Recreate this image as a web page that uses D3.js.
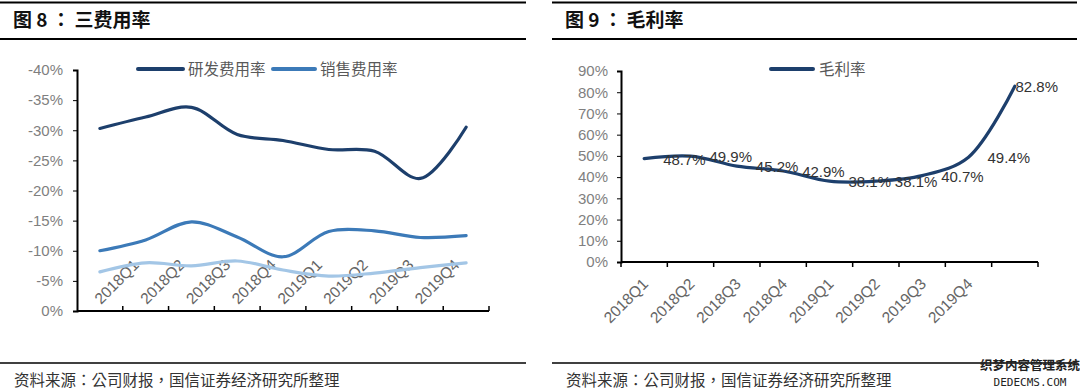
<!DOCTYPE html>
<html>
<head>
<meta charset="utf-8">
<script src="https://cdn.jsdelivr.net/npm/d3@7"></script>
<style>
  body { margin: 0; background: #fff; }
  svg { display: block; font-family: "Liberation Sans", Arial, "Noto Sans CJK SC", sans-serif; }
</style>
</head>
<body>
<svg id="chart" width="1080" height="392"></svg>
<script>
// categories (9 slots, the last one has no label in the source)
const periods = ["2018Q1", "2018Q2", "2018Q3", "2018Q4", "2019Q1", "2019Q2", "2019Q3", "2019Q4", ""];

// figure 8 – expense ratios (plotted as negatives, axis runs 0% .. -40%)
const rdRate = [-30.3, -32.2, -33.8, -29.3, -28.3, -26.8, -26.5, -22.0, -30.5];
const salesRate = [-10.0, -11.8, -14.8, -12.3, -9.0, -13.2, -13.3, -12.2, -12.5];
const adminRate = [-6.5, -8.0, -7.5, -8.3, -6.8, -5.8, -6.3, -7.2, -8.0];
const leftTicks = [0, -5, -10, -15, -20, -25, -30, -35, -40];

// figure 9 – gross margin
const grossMargin = [48.7, 49.9, 45.2, 42.9, 38.1, 38.1, 40.7, 49.4, 82.8];
const rightTicks = [0, 10, 20, 30, 40, 50, 60, 70, 80, 90];

const svg = d3.select('#chart');
const pct = v => v + '%';
const cjk = '"Noto Sans CJK TC", "Noto Sans CJK SC", sans-serif';

// ---- frame: titles, rules, sources ----
function drawFrame(x0, x1, titleParts) {
  svg.append('line').attr('x1', x0).attr('x2', x1).attr('y1', 2.5).attr('y2', 2.5)
    .attr('stroke', '#000').attr('stroke-width', 2);
  svg.append('line').attr('x1', x0).attr('x2', x1).attr('y1', 39).attr('y2', 39)
    .attr('stroke', '#000').attr('stroke-width', 2);
  const t = svg.append('text').attr('x', x0 + 13).attr('y', 27)
    .attr('font-size', 19).attr('font-weight', 'bold').attr('fill', '#111')
    .attr('font-family', cjk);
  titleParts.forEach((p, i) => t.append('tspan').attr('dx', i ? 4 : 0).text(p));
  svg.append('line').attr('x1', x0).attr('x2', x1).attr('y1', 363).attr('y2', 363)
    .attr('stroke', '#000').attr('stroke-width', 1.5);
  svg.append('text').attr('x', x0 + 14).attr('y', 386)
    .attr('font-size', 15.5).attr('fill', '#333')
    .attr('font-family', cjk)
    .text('资料来源：公司财报，国信证券经济研究所整理');
}
drawFrame(0, 526, ['图 8', '：', '三费用率']);
drawFrame(552, 1077, ['图 9', '：', '毛利率']);

// ---- figure 8 ----
const xL = d3.scaleBand().domain(d3.range(periods.length)).range([77, 489]);
const yL = d3.scaleLinear().domain([0, -40]).range([311, 70]);

const gL = svg.append('g');
gL.append('g').attr('transform', 'translate(77,0)')
  .call(d3.axisLeft(yL).tickValues(leftTicks).tickFormat(pct).tickSize(4).tickPadding(10))
  .call(g => g.selectAll('text').attr('font-size', 15).attr('fill', '#7f7f7f'))
  .call(g => g.select('.domain').attr('stroke-width', 2));
gL.append('line').attr('x1', 77).attr('x2', 489).attr('y1', 311).attr('y2', 311)
  .attr('stroke', '#000').attr('stroke-width', 2);
// category boundary ticks, pointing inward
gL.selectAll('.xtick').data(d3.range(1, periods.length + 1)).enter().append('line')
  .attr('x1', i => 77 + i * xL.bandwidth()).attr('x2', i => 77 + i * xL.bandwidth())
  .attr('y1', 311).attr('y2', 306).attr('stroke', '#000').attr('stroke-width', 1.5);
gL.selectAll('.xlab').data(periods).enter().append('text')
  .attr('transform', (d, i) => `translate(${xL(i) + xL.bandwidth() / 2 + 40},266) rotate(-45)`)
  .attr('text-anchor', 'end').attr('font-size', 15.5).attr('fill', '#666')
  .text(d => d);

const lineL = d3.line()
  .x((d, i) => xL(i) + xL.bandwidth() / 2)
  .y(d => yL(d))
  .curve(d3.curveCatmullRom.alpha(0.5));

[[adminRate, '#a3c6e6'], [salesRate, '#3c7ab8'], [rdRate, '#1d3f6c']].forEach(([s, c]) => {
  gL.append('path').datum(s).attr('d', lineL)
    .attr('fill', 'none').attr('stroke', c).attr('stroke-width', 3.2).attr('stroke-linecap', 'round');
});

// legend
const legendL = [['研发费用率', '#1d3f6c', 138, 183], ['销售费用率', '#3c7ab8', 273, 315]];
legendL.forEach(([name, c, a, b]) => {
  gL.append('line').attr('x1', a).attr('x2', b).attr('y1', 69).attr('y2', 69)
    .attr('stroke', c).attr('stroke-width', 4).attr('stroke-linecap', 'round');
  gL.append('text').attr('x', b + 5).attr('y', 75).attr('font-size', 15.5).attr('fill', '#595959')
    .attr('font-family', cjk).text(name);
});

// ---- figure 9 ----
const xR = d3.scaleBand().domain(d3.range(periods.length)).range([621, 1038]);
const yR = d3.scaleLinear().domain([0, 90]).range([262, 71]);

const gR = svg.append('g');
gR.append('g').attr('transform', 'translate(621,0)')
  .call(d3.axisLeft(yR).tickValues(rightTicks).tickFormat(pct).tickSize(4).tickPadding(9))
  .call(g => g.selectAll('text').attr('font-size', 15).attr('fill', '#7f7f7f'))
  .call(g => g.select('.domain').attr('stroke-width', 2));
gR.append('line').attr('x1', 621).attr('x2', 1038).attr('y1', 262).attr('y2', 262)
  .attr('stroke', '#000').attr('stroke-width', 2);
gR.selectAll('.xtick').data(d3.range(0, periods.length + 1)).enter().append('line')
  .attr('x1', i => 621 + i * xR.bandwidth()).attr('x2', i => 621 + i * xR.bandwidth())
  .attr('y1', 262).attr('y2', 267).attr('stroke', '#000').attr('stroke-width', 1.5);
gR.selectAll('.xlab').data(periods).enter().append('text')
  .attr('transform', (d, i) => `translate(${xR(i) + xR.bandwidth() / 2 + 5},285) rotate(-45)`)
  .attr('text-anchor', 'end').attr('font-size', 15.5).attr('fill', '#666')
  .text(d => d);

const lineR = d3.line()
  .x((d, i) => xR(i) + xR.bandwidth() / 2)
  .y(d => yR(d))
  .curve(d3.curveCatmullRom.alpha(0.5));
gR.append('path').datum(grossMargin).attr('d', lineR)
  .attr('fill', 'none').attr('stroke', '#1d3f6c').attr('stroke-width', 3.2).attr('stroke-linecap', 'round');

gR.selectAll('.dlab').data(grossMargin).enter().append('text')
  .attr('y', d => yR(d) + 6)
  .attr('font-size', 15).attr('fill', '#333')
  .text(d => d.toFixed(1) + '%')
  .attr('x', function (d, i) {
    const w = this.getComputedTextLength();
    return Math.min(xR(i) + xR.bandwidth() / 2 + 19, 1058 - w);
  });

gR.append('line').attr('x1', 771).attr('x2', 813).attr('y1', 69).attr('y2', 69)
  .attr('stroke', '#1d3f6c').attr('stroke-width', 4).attr('stroke-linecap', 'round');
gR.append('text').attr('x', 819).attr('y', 75).attr('font-size', 15.5).attr('fill', '#595959')
  .attr('font-family', cjk).text('毛利率');

// watermark
svg.append('text').attr('x', 1030).attr('y', 370).attr('text-anchor', 'middle')
  .attr('font-size', 12.5).attr('font-weight', 'bold').attr('fill', '#222').attr('font-family', cjk)
  .text('织梦内容管理系统');
svg.append('text').attr('x', 1030).attr('y', 386).attr('text-anchor', 'middle')
  .attr('font-size', 11).attr('fill', '#222').attr('font-family', '"DejaVu Sans Mono", monospace')
  .text('DEDECMS.COM');
</script>
</body>
</html>
